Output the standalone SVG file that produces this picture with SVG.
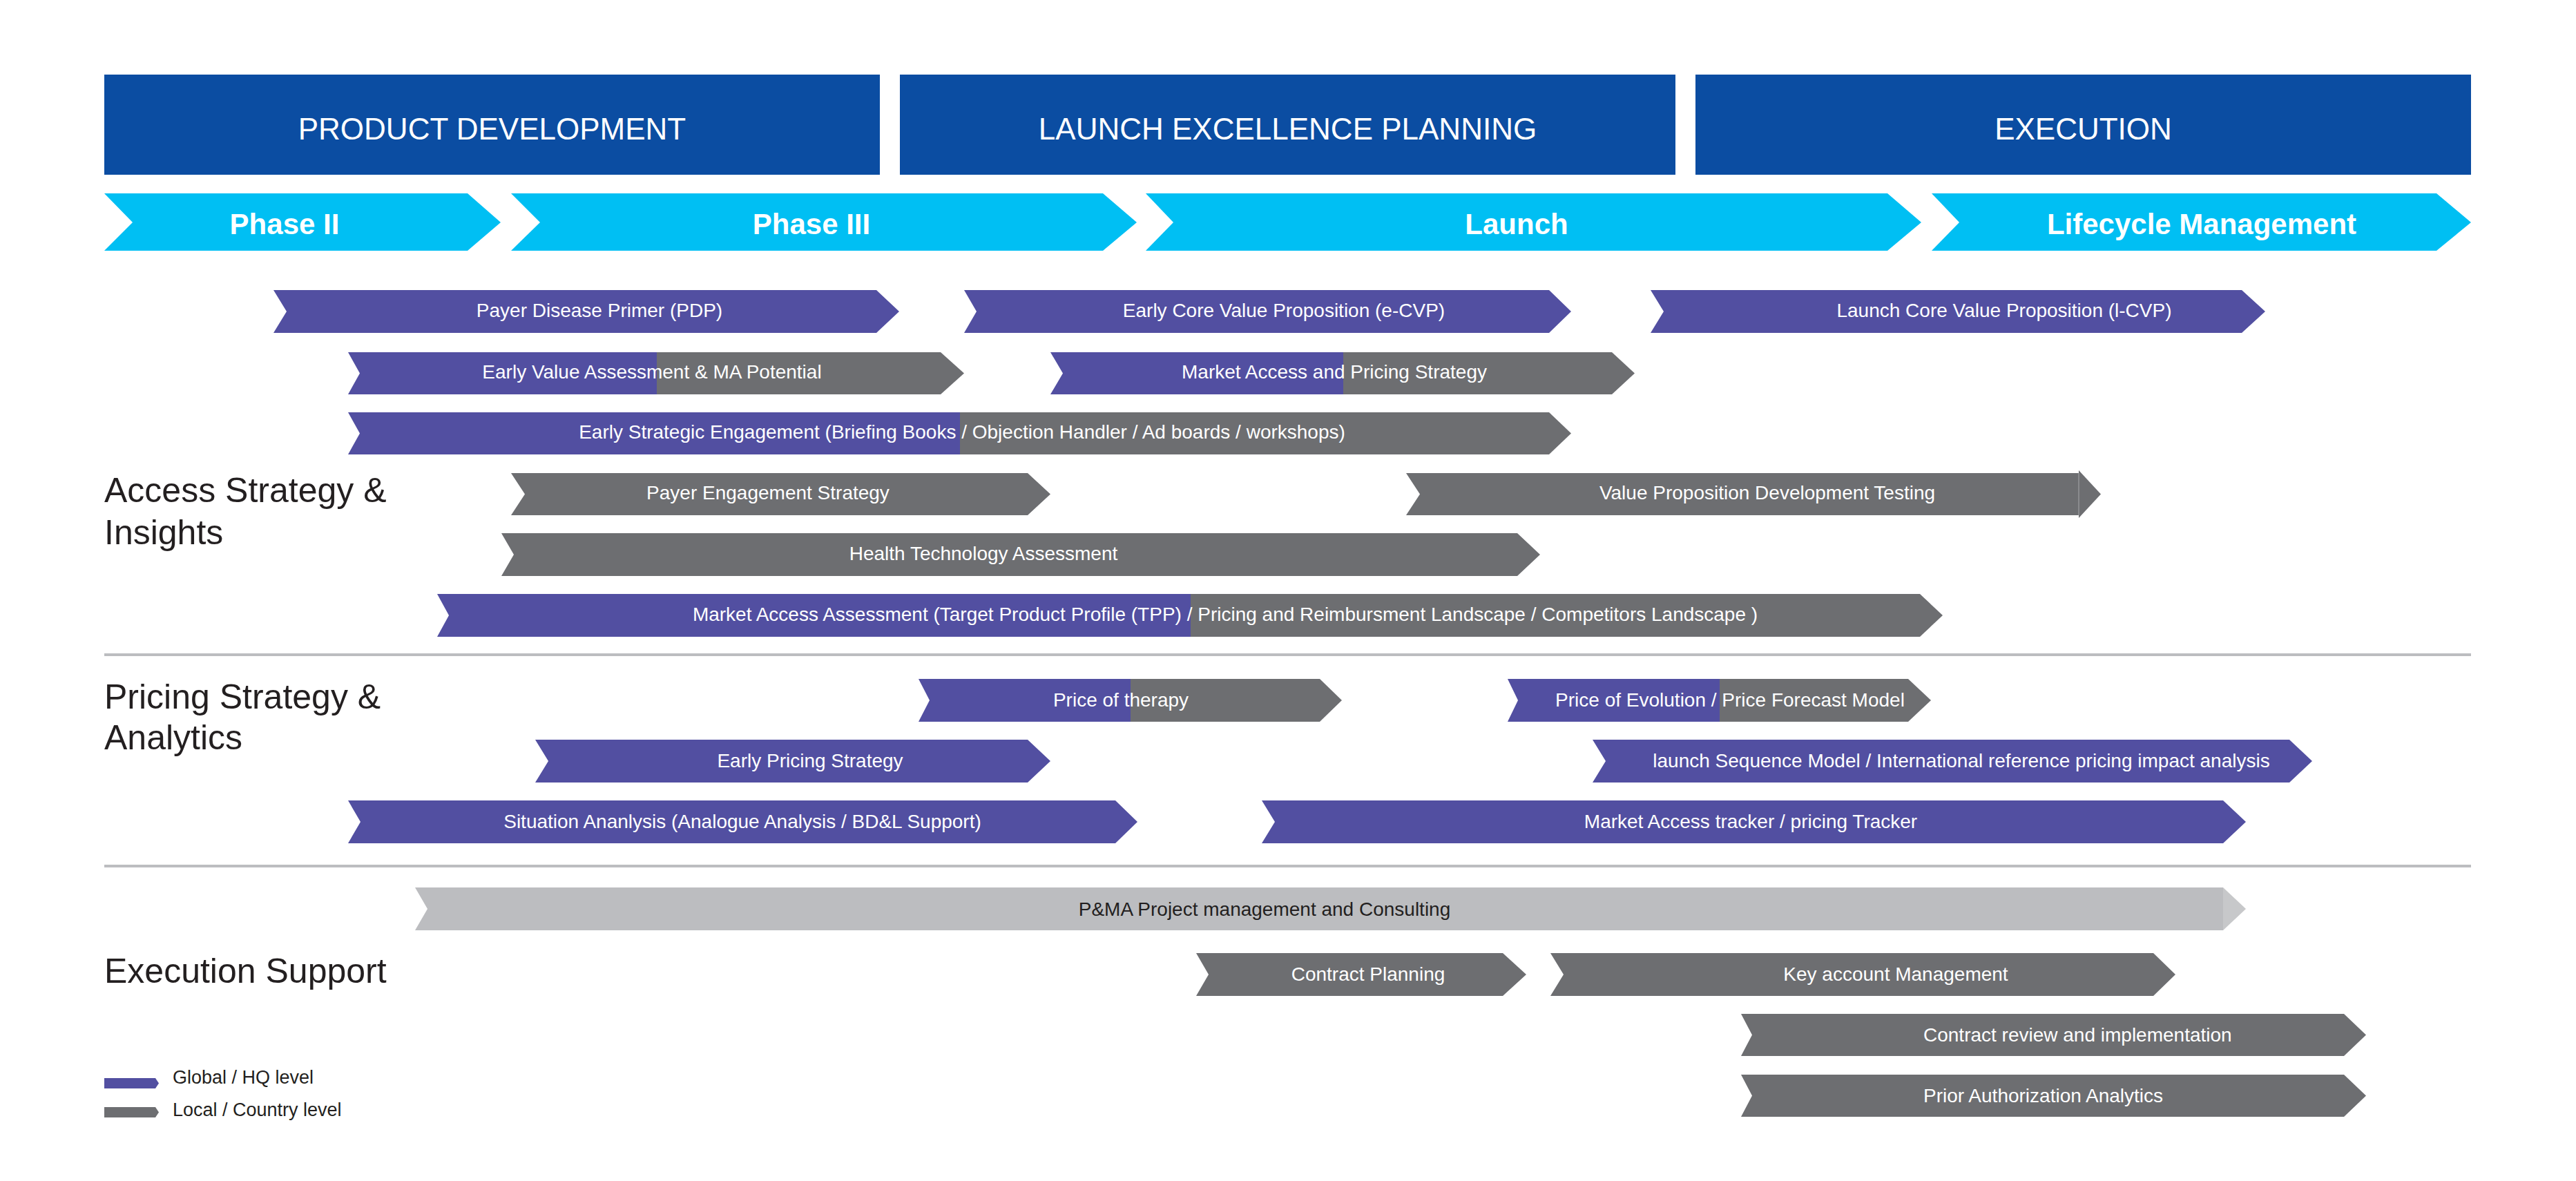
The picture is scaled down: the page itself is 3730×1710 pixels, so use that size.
<svg xmlns="http://www.w3.org/2000/svg" width="3730" height="1710" viewBox="0 0 3730 1710">
<style>
.hdr{fill:#0B4DA2}
.hdrt{font-family:"Liberation Sans",Arial,sans-serif;font-size:44px;fill:#fff;text-anchor:middle}
.ph{fill:#00BFF3}
.pht{font-family:"Liberation Sans",Arial,sans-serif;font-size:42px;font-weight:bold;fill:#fff;text-anchor:middle}
.pu{fill:#524FA1}
.gr{fill:#6D6E71}
.lg{fill:#BCBDC0}
.lgt{fill:#C7C8CA}
.tt{font-family:"Liberation Sans",Arial,sans-serif;font-size:28px;fill:#fff;text-anchor:middle}
.ts{font-family:"Liberation Sans",Arial,sans-serif;font-size:28px;fill:#fff;text-anchor:start}
.td{font-family:"Liberation Sans",Arial,sans-serif;font-size:28px;fill:#231F20;text-anchor:middle}
.sec{font-family:"Liberation Sans",Arial,sans-serif;font-size:50px;fill:#231F20}
.leg{font-family:"Liberation Sans",Arial,sans-serif;font-size:27px;fill:#231F20}
.sep{fill:#BCBDC0}
</style>
<rect width="3730" height="1710" fill="#fff"/>

<g id="header-product-development"><rect class="hdr" x="151" y="108" width="1123" height="145"/><text class="hdrt" x="712.5" y="202">PRODUCT DEVELOPMENT</text></g>
<g id="header-launch-excellence"><rect class="hdr" x="1303" y="108" width="1123" height="145"/><text class="hdrt" x="1864.5" y="202">LAUNCH EXCELLENCE PLANNING</text></g>
<g id="header-execution"><rect class="hdr" x="2455" y="108" width="1123" height="145"/><text class="hdrt" x="3016.5" y="202">EXECUTION</text></g>

<g id="phase-2"><polygon class="ph" points="151,280 677,280 725,322 677,363 151,363 192,322"/><text class="pht" x="412" y="339">Phase II</text></g>
<g id="phase-3"><polygon class="ph" points="740,280 1597,280 1646,322 1597,363 740,363 782,322"/><text class="pht" x="1175" y="339">Phase III</text></g>
<g id="phase-launch"><polygon class="ph" points="1659,280 2733,280 2782,322 2733,363 1659,363 1699,322"/><text class="pht" x="2196" y="339">Launch</text></g>
<g id="phase-lifecycle"><polygon class="ph" points="2797,280 3528,280 3578,322 3528,363 2797,363 2837,322"/><text class="pht" x="3188" y="339">Lifecycle Management</text></g>

<g id="label-access"><text class="sec" x="151" y="727">Access Strategy &amp;</text><text class="sec" x="151" y="788">Insights</text></g>
<g id="label-pricing"><text class="sec" x="151" y="1026">Pricing Strategy &amp;</text><text class="sec" x="151" y="1085">Analytics</text></g>
<g id="label-execution"><text class="sec" x="151" y="1423">Execution Support</text></g>

<g id="separators"><rect class="sep" x="151" y="946" width="3427" height="4"/><rect class="sep" x="151" y="1252" width="3427" height="4"/></g>

<g id="task-pdp"><polygon class="pu" points="396,420 1269,420 1302,451 1269,482 396,482 415,451"/><text class="tt" x="868" y="459">Payer Disease Primer (PDP)</text></g>
<g id="task-ecvp"><polygon class="pu" points="1396,420 2243,420 2275,451 2243,482 1396,482 1414,451"/><text class="tt" x="1859" y="459">Early Core Value Proposition (e-CVP)</text></g>
<g id="task-lcvp"><polygon class="pu" points="2390,420 3246,420 3280,451 3246,482 2390,482 2409,451"/><text class="tt" x="2902" y="459">Launch Core Value Proposition (l-CVP)</text></g>

<g id="task-eva"><polygon class="pu" points="504,510 951,510 951,571 504,571 521,540.5"/><polygon class="gr" points="951,510 1362,510 1396,540.5 1362,571 951,571"/><text class="tt" x="944" y="548">Early Value Assessment &amp; MA Potential</text></g>
<g id="task-maps"><polygon class="pu" points="1521,510 1945,510 1945,571 1521,571 1539,540.5"/><polygon class="gr" points="1945,510 2334,510 2367,540.5 2334,571 1945,571"/><text class="tt" x="1932" y="548">Market Access and Pricing Strategy</text></g>

<g id="task-ese"><polygon class="pu" points="504,597 1390,597 1390,658 504,658 521,627.5"/><polygon class="gr" points="1390,597 2243,597 2275,627.5 2243,658 1390,658"/><text class="tt" x="1393" y="635">Early Strategic Engagement (Briefing Books / Objection Handler / Ad boards / workshops)</text></g>

<g id="task-pes"><polygon class="gr" points="740,685 1488,685 1521,715.5 1488,746 740,746 760,715.5"/><text class="tt" x="1112" y="723">Payer Engagement Strategy</text></g>
<g id="task-vpdt"><polygon class="gr" points="2036,685 3010,685 3010,746 2036,746 2056,715.5"/><polygon class="gr" points="3010,681 3042,715.5 3010,750"/><rect x="3009" y="685" width="2" height="61" fill="#8A8B8E"/><text class="tt" x="2559" y="723">Value Proposition Development Testing</text></g>

<g id="task-hta"><polygon class="gr" points="726,772 2197,772 2230,803 2197,834 726,834 744,803"/><text class="tt" x="1424" y="811">Health Technology Assessment</text></g>

<g id="task-maa"><polygon class="pu" points="633,860 1724,860 1724,922 633,922 650,891"/><polygon class="gr" points="1724,860 2780,860 2813,891 2780,922 1724,922"/><text class="tt" x="1774" y="899">Market Access Assessment (Target Product Profile (TPP) / Pricing and Reimbursment Landscape / Competitors Landscape )</text></g>

<g id="task-pot"><polygon class="pu" points="1330,983 1637,983 1637,1045 1330,1045 1346,1014"/><polygon class="gr" points="1637,983 1911,983 1943,1014 1911,1045 1637,1045"/><text class="tt" x="1623" y="1023">Price of therapy</text></g>
<g id="task-poe"><polygon class="pu" points="2183,983 2490,983 2490,1045 2183,1045 2198,1014"/><polygon class="gr" points="2490,983 2763,983 2796,1014 2763,1045 2490,1045"/><text class="tt" x="2505" y="1023">Price of Evolution / Price Forecast Model</text></g>

<g id="task-eps"><polygon class="pu" points="775,1071 1488,1071 1521,1102 1488,1133 775,1133 794,1102"/><text class="tt" x="1173" y="1111">Early Pricing Strategy</text></g>
<g id="task-lsm"><polygon class="pu" points="2306,1071 3315,1071 3348,1102 3315,1133 2306,1133 2325,1102"/><text class="tt" x="2840" y="1111">launch Sequence Model / International reference pricing impact analysis</text></g>

<g id="task-sa"><polygon class="pu" points="504,1159 1615,1159 1647,1190 1615,1221 504,1221 522,1190"/><text class="tt" x="1075" y="1199">Situation Ananlysis (Analogue Analysis / BD&amp;L Support)</text></g>
<g id="task-mat"><polygon class="pu" points="1827,1159 3219,1159 3252,1190 3219,1221 1827,1221 1846,1190"/><text class="tt" x="2535" y="1199">Market Access tracker / pricing Tracker</text></g>

<g id="task-pma"><polygon class="lg" points="601,1285 3219,1285 3219,1347 601,1347 619,1316"/><polygon class="lgt" points="3219,1285 3252,1316 3219,1347"/><text class="td" x="1831" y="1326">P&amp;MA Project management and Consulting</text></g>

<g id="task-cp"><polygon class="gr" points="1732,1380 2176,1380 2210,1411 2176,1442 1732,1442 1750,1411"/><text class="tt" x="1981" y="1420">Contract Planning</text></g>
<g id="task-kam"><polygon class="gr" points="2245,1380 3118,1380 3150,1411 3118,1442 2245,1442 2264,1411"/><text class="tt" x="2745" y="1420">Key account Management</text></g>

<g id="task-cri"><polygon class="gr" points="2521,1468 3394,1468 3426,1498.5 3394,1529 2521,1529 2537,1498.5"/><text class="ts" x="2785" y="1508">Contract review and implementation</text></g>
<g id="task-paa"><polygon class="gr" points="2521,1556 3394,1556 3426,1586.5 3394,1617 2521,1617 2537,1586.5"/><text class="ts" x="2785" y="1596">Prior Authorization Analytics</text></g>

<g id="legend-global"><polygon class="pu" points="151,1561 225,1561 230,1568.5 225,1576 151,1576"/><text class="leg" x="250" y="1569">Global / HQ level</text></g>
<g id="legend-local"><polygon class="gr" points="151,1603 225,1603 230,1610.5 225,1618 151,1618"/><text class="leg" x="250" y="1616">Local / Country level</text></g>

<g id="connectors"/>
</svg>
